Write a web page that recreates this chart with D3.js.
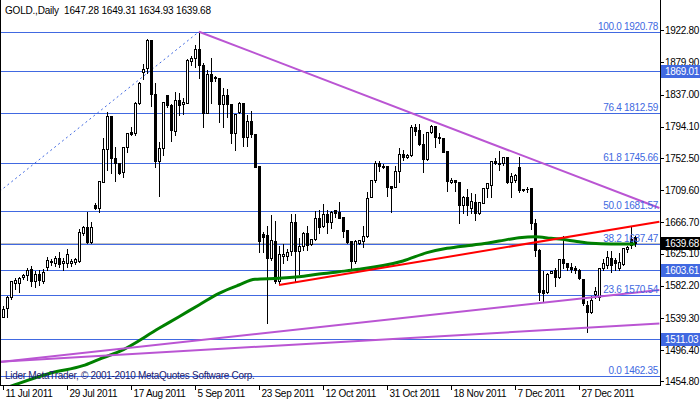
<!DOCTYPE html>
<html><head><meta charset="utf-8">
<script src="https://cdn.jsdelivr.net/npm/d3@7"></script>
<style>
html,body{margin:0;padding:0;background:#fff;}
svg{display:block;font-family:"Liberation Sans",Arial,sans-serif;}
</style></head><body>
<svg id="c" width="700" height="402"></svg>
<script>
// ---- data ----
const barIndex = d3.range(159);
const opens = [1541.0,1552.2,1567.6,1585.5,1585.5,1593.5,1596.5,1604.1,1588.9,1597.9,
1588.9,1607.6,1613.5,1612.9,1618.8,1612.1,1612.9,1612.1,1614.3,1615.6,
1652.9,1660.1,1640.9,1689.8,1686.2,1720.9,1764.1,1808.4,1752.1,1746.2,
1733.4,1766.7,1787.5,1785.4,1825.4,1867.5,1872.0,1909.7,1837.5,1748.2,
1765.4,1836.4,1823.1,1788.9,1829.8,1824.0,1826.2,1882.1,1885.3,1897.3,
1876.4,1812.8,1864.4,1860.0,1858.7,1824.0,1836.4,1824.0,1785.4,1814.2,
1825.4,1780.9,1801.8,1784.1,1741.8,1650.8,1649.9,1618.8,1641.9,1588.5,
1621.9,1621.9,1628.9,1667.0,1628.9,1635.2,1652.1,1637.5,1644.1,1672.9,
1661.9,1677.8,1667.6,1683.2,1680.9,1674.2,1656.5,1642.3,1615.6,1638.8,
1642.3,1648.9,1700.9,1723.1,1745.4,1741.8,1742.2,1715.2,1714.2,1735.5,
1757.8,1753.4,1756.5,1794.2,1789.8,1771.1,1751.1,1786.7,1795.1,1780.9,
1778.7,1761.8,1720.1,1723.1,1720.1,1689.8,1700.9,1686.2,1694.2,1678.8,
1692.9,1712.1,1716.5,1748.5,1744.0,1745.4,1754.2,1720.9,1723.1,1740.9,
1711.7,1711.3,1712.1,1665.4,1629.9,1576.5,1574.3,1599.6,1603.2,1593.5,
1617.5,1612.1,1607.6,1605.5,1603.2,1590.8,1556.6,1547.6,1571.2,1567.6,
1605.5,1609.9,1618.8,1616.5,1605.9,1610.8,1630.8,1644.1,1647.28];
const highs = [1556.6,1569.9,1589.9,1593.9,1595.2,1599.2,1607.6,1609.9,1603.2,1604.5,
1605.5,1621.9,1619.6,1623.2,1628.9,1620.5,1632.1,1619.2,1620.9,1658.8,
1663.2,1682.2,1668.9,1693.4,1723.1,1780.1,1815.1,1809.8,1768.5,1747.5,
1768.9,1787.5,1795.1,1828.4,1855.1,1878.7,1912.0,1910.7,1853.3,1775.1,
1828.4,1837.5,1825.4,1841.8,1840.8,1834.2,1885.3,1889.7,1904.4,1920.78,
1880.8,1870.7,1886.7,1863.1,1859.1,1847.5,1845.4,1825.4,1812.0,1828.8,
1826.2,1810.7,1816.4,1785.4,1743.1,1655.2,1663.2,1677.8,1669.8,1636.5,
1639.6,1632.1,1679.0,1679.0,1646.8,1655.2,1663.2,1646.3,1683.2,1684.1,
1692.9,1684.1,1683.2,1683.8,1695.2,1675.2,1657.4,1643.2,1644.1,1644.5,
1663.2,1708.9,1724.5,1749.8,1749.8,1745.4,1743.1,1715.8,1743.1,1767.5,
1764.1,1759.5,1797.8,1799.5,1799.5,1785.4,1787.5,1797.8,1796.5,1787.5,
1780.1,1763.1,1726.7,1723.8,1720.9,1703.2,1712.1,1707.6,1706.2,1695.2,
1713.4,1720.9,1749.8,1753.8,1763.1,1755.1,1755.1,1734.2,1732.5,1755.1,
1712.6,1715.6,1713.8,1672.5,1632.5,1603.2,1600.9,1603.2,1607.6,1619.2,
1649.9,1614.3,1614.3,1609.9,1605.5,1592.1,1563.2,1569.9,1581.9,1607.6,
1619.2,1629.9,1629.9,1620.9,1627.2,1634.3,1636.5,1661.9,1649.31];
const lows = [1539.9,1540.6,1564.6,1577.9,1574.3,1591.2,1589.9,1581.9,1580.1,1583.2,
1586.3,1603.2,1609.9,1608.5,1607.6,1603.2,1607.6,1608.5,1611.2,1614.3,
1649.9,1639.6,1639.6,1684.5,1680.9,1720.1,1736.5,1732.1,1722.2,1731.1,
1727.5,1760.9,1783.1,1783.1,1824.4,1857.3,1865.3,1822.2,1740.9,1702.2,
1756.5,1820.8,1775.5,1783.1,1809.8,1811.1,1825.4,1876.4,1874.1,1858.7,
1793.4,1812.0,1825.4,1855.5,1800.8,1794.2,1807.5,1772.1,1763.1,1812.8,
1768.9,1768.5,1780.9,1740.5,1627.6,1627.6,1532.2,1616.5,1586.3,1586.3,
1612.1,1616.5,1623.2,1587.6,1597.9,1629.9,1629.9,1636.5,1643.2,1652.9,
1660.1,1652.1,1658.8,1674.2,1672.1,1647.6,1638.8,1603.2,1612.1,1637.5,
1634.3,1646.8,1700.1,1720.9,1735.5,1738.7,1702.2,1680.9,1713.4,1720.9,
1749.8,1752.1,1755.1,1783.1,1769.8,1734.2,1749.8,1785.4,1766.7,1772.9,
1759.8,1708.9,1719.6,1708.9,1665.4,1678.8,1676.5,1679.6,1669.8,1677.8,
1692.1,1700.9,1700.9,1744.5,1736.5,1743.1,1719.6,1700.9,1720.5,1706.8,
1708.2,1707.6,1657.4,1621.9,1563.2,1561.0,1572.1,1599.2,1581.9,1592.5,
1605.5,1603.2,1600.9,1599.2,1590.8,1556.6,1520.9,1545.9,1565.9,1563.2,
1603.2,1605.9,1600.9,1603.2,1603.2,1609.9,1627.2,1632.1,1634.93];
const closes = [1550.8,1566.8,1588.5,1589.9,1592.1,1596.5,1603.2,1588.9,1597.9,1589.9,
1600.9,1616.5,1615.6,1618.8,1611.2,1615.2,1624.5,1615.6,1618.3,1654.2,
1660.9,1640.9,1660.1,1686.2,1721.8,1764.1,1808.4,1752.1,1745.4,1732.9,
1766.7,1785.4,1784.5,1825.4,1852.0,1870.7,1909.7,1837.5,1748.2,1765.4,
1827.5,1823.1,1789.8,1829.8,1823.1,1827.5,1883.1,1885.3,1897.3,1876.4,
1812.8,1864.4,1855.5,1859.6,1824.0,1836.4,1824.0,1785.4,1810.7,1825.4,
1780.9,1801.8,1784.1,1740.9,1642.3,1647.6,1618.8,1643.2,1588.5,1624.1,
1624.5,1627.6,1667.0,1628.9,1635.2,1652.1,1636.5,1644.1,1672.9,1660.9,
1677.8,1667.6,1680.9,1679.6,1672.9,1655.6,1640.9,1615.6,1641.9,1643.2,
1648.9,1699.6,1723.1,1745.4,1742.2,1740.9,1714.2,1712.9,1735.5,1757.8,
1753.4,1756.5,1794.2,1788.9,1771.1,1751.1,1786.7,1795.1,1780.1,1778.7,
1760.1,1721.8,1723.1,1720.1,1689.8,1700.9,1689.8,1695.2,1679.6,1694.2,
1712.1,1719.6,1748.9,1745.4,1745.4,1754.2,1720.9,1728.5,1729.8,1709.4,
1709.4,1711.0,1665.4,1629.9,1574.3,1572.1,1597.9,1602.3,1593.5,1617.5,
1612.1,1606.8,1604.1,1603.2,1592.1,1559.2,1547.6,1563.2,1575.6,1605.5,
1612.1,1620.9,1609.9,1612.1,1613.9,1632.1,1634.3,1636.5,1639.68];

// moving average (green), read at selected bars
const maBars   = [0,4,12,20,24,29,39,44,49,54,59,63,69,74,79,84,89,100,106,111,116,119,124,129,133,137,141,144,147,152,158];
const maValues = [1444.6,1452.2,1465.9,1475.7,1484.2,1494.3,1525.5,1541.0,1556.6,1572.1,1583.2,1590.8,1592.1,1594.3,1597.9,1600.9,1604.1,1615.2,1626.3,1632.1,1635.6,1637.4,1641.8,1646.2,1647.6,1645.4,1643.2,1640.9,1638.8,1637.8,1637.8];

// price axis ticks
const priceTicks = [1922.80,1879.90,1837.00,1794.10,1752.50,1709.60,1666.70,1625.10,1582.20,1539.30,1496.40,1454.80];
// time axis
const dateTickBars = [0,16,32,48,64,80,96,112,128,144];
const dateTickLabels = ["11 Jul 2011","29 Jul 2011","17 Aug 2011","5 Sep 2011","23 Sep 2011","12 Oct 2011","31 Oct 2011","18 Nov 2011","7 Dec 2011","27 Dec 2011"];

// Fibonacci retracement
const fibLevels = ["0.0","23.6","38.2","50.0","61.8","76.4","100.0"];
const fibPrices = [1462.35,1570.54,1637.47,1681.57,1745.66,1812.59,1920.78];
const fibAnchorBars = [-58.4,49];
const fibAnchorPrices = [1462.35,1920.78];
// horizontal lines with axis labels
const hLinePrices = [1869.01,1603.61,1511.03];
// trend lines: [bar0, price0, bar1, price1]
const redTrend = [69,1583.2,164.1,1667.6];
const purpleTrends = [[49,1920.78,164.1,1685.8],[-0.9,1480.6,164.1,1576.5],[-0.9,1481.0,164.1,1531.9]];

const headerText = "GOLD.,Daily  1647.28 1649.31 1634.93 1639.68";
const copyrightText = "Lider MetaTrader, \u00a9 2001-2010 MetaQuotes Software Corp.";
const lastPrice = 1639.68;

// ---- drawing ----
const svg = d3.select("#c");
const plotR = 660, plotB = 385;
const x = d3.scaleLinear().domain([0,158]).range([3,635]);
const y = d3.scaleLinear().domain([1449.94,1963.03]).range([plotB,0]);
const px = i => Math.round(x(i)) + 0.5;
const py = v => Math.round(y(v)) + 0.5;

svg.append("rect").attr("width",700).attr("height",402).attr("fill","#fff");
svg.append("defs").append("clipPath").attr("id","clip")
  .append("rect").attr("x",0).attr("y",0).attr("width",plotR).attr("height",plotB);
const plot = svg.append("g").attr("clip-path","url(#clip)");

const blue = "#4169E1";
// horizontal lines (fib + hlines)
plot.selectAll("line.fib").data(fibPrices).join("line")
  .attr("x1",0).attr("x2",plotR).attr("y1",d=>py(d)).attr("y2",d=>py(d))
  .attr("stroke",blue).attr("stroke-width",1).attr("shape-rendering","crispEdges");
plot.selectAll("line.hl").data(hLinePrices).join("line")
  .attr("x1",0).attr("x2",plotR).attr("y1",d=>py(d)).attr("y2",d=>py(d))
  .attr("stroke",blue).attr("stroke-width",1).attr("shape-rendering","crispEdges");
// bid line
plot.append("line").attr("x1",0).attr("x2",plotR).attr("y1",py(lastPrice)).attr("y2",py(lastPrice))
  .attr("stroke","#C0C0C0").attr("shape-rendering","crispEdges");
// fib dotted diagonal
plot.append("line")
  .attr("x1",x(fibAnchorBars[0])).attr("y1",y(fibAnchorPrices[0]))
  .attr("x2",x(fibAnchorBars[1])).attr("y2",y(fibAnchorPrices[1]))
  .attr("stroke",blue).attr("stroke-width",1).attr("stroke-dasharray","2,3");

// copyright text
svg.append("text").attr("x",5).attr("y",379).attr("font-size",10).attr("letter-spacing",-0.3)
  .attr("fill","#1c1c6e").text(copyrightText);

// candles
const cg = plot.append("g").attr("shape-rendering","crispEdges");
barIndex.forEach(i=>{
  const o=opens[i],h=highs[i],l=lows[i],c=closes[i];
  const cx = px(i);
  cg.append("line").attr("x1",cx).attr("x2",cx).attr("y1",py(h)).attr("y2",py(l)).attr("stroke","#000");
  const top = Math.round(y(Math.max(o,c))), bot = Math.round(y(Math.min(o,c)));
  if (bot-top < 1) {
    cg.append("line").attr("x1",cx-1.5).attr("x2",cx+1.5).attr("y1",top+0.5).attr("y2",top+0.5).attr("stroke","#000");
  } else {
    cg.append("rect").attr("x",cx-1).attr("y",top+0.5).attr("width",2).attr("height",bot-top)
      .attr("fill", c>=o ? "#fff" : "#000").attr("stroke","#000");
  }
});

// moving average
const maData = maBars.map((b,k)=>[b,maValues[k]]);
plot.append("path").datum(maData)
  .attr("d", d3.line().x(d=>x(d[0])).y(d=>y(d[1])).curve(d3.curveMonotoneX))
  .attr("fill","none").attr("stroke","#008000").attr("stroke-width",3);

// trend lines
plot.append("line").attr("x1",x(redTrend[0])).attr("y1",y(redTrend[1])).attr("x2",x(redTrend[2])).attr("y2",y(redTrend[3]))
  .attr("stroke","#FF0000").attr("stroke-width",2);
plot.selectAll("line.pt").data(purpleTrends).join("line")
  .attr("x1",d=>x(d[0])).attr("y1",d=>y(d[1])).attr("x2",d=>x(d[2])).attr("y2",d=>y(d[3]))
  .attr("stroke","#BA55D3").attr("stroke-width",2);

// fib labels
plot.selectAll("text.fl").data(fibPrices).join("text")
  .attr("x",658).attr("y",d=>py(d)-2.5).attr("text-anchor","end")
  .attr("font-size",10).attr("letter-spacing",-0.3).attr("fill",blue)
  .text((d,k)=>fibLevels[k]+" "+d.toFixed(2));

// header
svg.append("text").attr("x",5).attr("y",14).attr("font-size",10).attr("letter-spacing",-0.2)
  .attr("fill","#000").attr("xml:space","preserve").style("white-space","pre").text(headerText);

// frame
svg.append("line").attr("x1",plotR+0.5).attr("x2",plotR+0.5).attr("y1",0).attr("y2",plotB+1).attr("stroke","#000").attr("shape-rendering","crispEdges");
svg.append("line").attr("x1",0).attr("x2",plotR+1).attr("y1",plotB+0.5).attr("y2",plotB+0.5).attr("stroke","#000").attr("shape-rendering","crispEdges");
svg.append("line").attr("x1",0.5).attr("x2",0.5).attr("y1",0).attr("y2",plotB+1).attr("stroke","#000").attr("shape-rendering","crispEdges");

// price axis
const pa = svg.append("g");
priceTicks.forEach(t=>{
  pa.append("line").attr("x1",plotR).attr("x2",plotR+4).attr("y1",py(t)).attr("y2",py(t)).attr("stroke","#000").attr("shape-rendering","crispEdges");
  pa.append("text").attr("x",665).attr("y",y(t)).attr("dy","0.36em").attr("font-size",10).attr("letter-spacing",-0.3)
    .attr("fill","#000").text(t.toFixed(2));
});
// highlighted labels
function boxLabel(v, bg){
  const cy = Math.round(y(v));
  pa.append("rect").attr("x",plotR+1).attr("y",cy-6).attr("width",700-plotR-1).attr("height",13).attr("fill",bg);
  pa.append("text").attr("x",665).attr("y",cy).attr("dy","0.36em").attr("font-size",10).attr("letter-spacing",-0.3)
    .attr("fill","#fff").text(v.toFixed(2));
}
hLinePrices.forEach(v=>boxLabel(v, blue));
boxLabel(lastPrice, "#000");

// time axis
const ta = svg.append("g");
dateTickBars.forEach((b,k)=>{
  const tx = px(b);
  ta.append("line").attr("x1",tx).attr("x2",tx).attr("y1",plotB).attr("y2",plotB+5).attr("stroke","#000").attr("shape-rendering","crispEdges");
  ta.append("text").attr("x",tx+2).attr("y",397).attr("font-size",10).attr("letter-spacing",-0.3)
    .attr("fill","#000").text(dateTickLabels[k]);
});
</script>
</body></html>
